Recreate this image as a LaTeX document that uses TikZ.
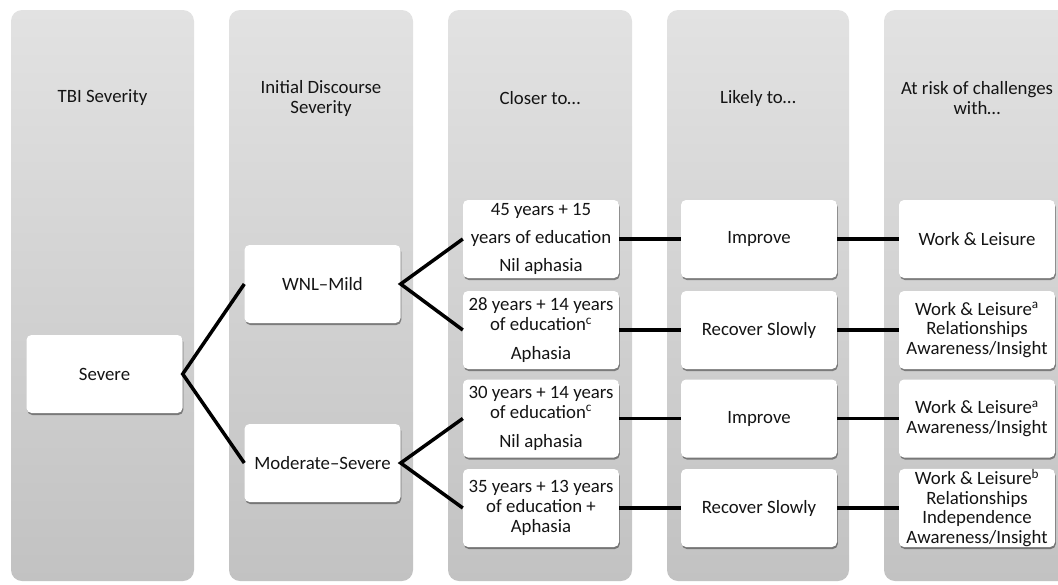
\documentclass[tikz,border=0pt]{standalone}
\usepackage{fontspec}
\setmainfont{Carlito}
\usetikzlibrary{shadows}
\definecolor{coltop}{RGB}{226,226,226}
\definecolor{colbot}{RGB}{194,194,194}
\definecolor{txt}{RGB}{20,20,20}
\begin{document}
\begin{tikzpicture}[x=1pt,y=-1pt,
  column/.style={top color=coltop,bottom color=colbot,draw=none,rounded corners=11pt},
  hdr/.style={align=center,text=txt,font=\fontsize{18.8}{20}\selectfont,inner sep=0pt},
  box/.style={fill=white,draw=none,rounded corners=5pt,minimum width=156pt,minimum height=78pt,
    inner sep=0pt,align=center,text=txt,font=\fontsize{18.8}{19.8}\selectfont,
    drop shadow={shadow xshift=0.8pt,shadow yshift=-2pt,opacity=0.4,fill=black}},
  link/.style={draw=black,line width=3.5pt}]
\useasboundingbox (0,0) rectangle (1058,584);
\clip (0,0) rectangle (1058,584);
% columns
\shade[column] (11,10) rectangle (194,581);
\shade[column] (229,10) rectangle (413,581);
\shade[column] (448,10) rectangle (632,581);
\shade[column] (667,10) rectangle (849,581);
\shade[column] (884,10) rectangle (1070,581);
% headers
\node[hdr] (h1) at (102.5,98) {TBI Severity};
\node[hdr] (h2) at (321,98) {Initial Discourse\\Severity};
\node[hdr] (h3) at (540,98) {Closer to…};
\node[hdr] (h4) at (758,98) {Likely to…};
\node[hdr] (h5) at (977,98) {At risk of challenges\\with…};
% nodes
\node[box] (sev) at (104.5,374) {Severe};
\node[box] (wnl) at (322.5,284) {WNL–Mild};
\node[box] (mod) at (322.5,463) {Moderate–Severe};
\node[box] (c1) at (541,239) {45 years + 15\\[8.5pt]years of education\\[8.5pt]Nil aphasia};
\node[box] (c2) at (541,330) {28 years + 14 years\\of education\textsuperscript{c}\\[9pt]Aphasia};
\node[box] (c3) at (541,418.5) {30 years + 14 years\\of education\textsuperscript{c}\\[10pt]Nil aphasia};
\node[box] (c4) at (541,508) {35 years + 13 years\\of education +\\Aphasia};
\node[box] (l1) at (759,239) {Improve};
\node[box] (l2) at (759,330) {Recover Slowly};
\node[box] (l3) at (759,418.5) {Improve};
\node[box] (l4) at (759,508) {Recover Slowly};
\node[box] (r1) at (977,239) {Work \& Leisure};
\node[box] (r2) at (977,330) {Work \& Leisure\textsuperscript{a}\\Relationships\\Awareness/Insight};
\node[box] (r3) at (977,418.5) {Work \& Leisure\textsuperscript{a}\\Awareness/Insight};
\node[box] (r4) at (977,508) {Work \& Leisure\textsuperscript{b}\\Relationships\\Independence\\Awareness/Insight};
% connectors
\draw[link] (wnl.west) -- (sev.east) -- (mod.west);
\draw[link] (c1.west) -- (wnl.east) -- (c2.west);
\draw[link] (c3.west) -- (mod.east) -- (c4.west);
\draw[link] (c1) -- (l1);
\draw[link] (c2) -- (l2);
\draw[link] (c3) -- (l3);
\draw[link] (c4) -- (l4);
\draw[link] (l1) -- (r1);
\draw[link] (l2) -- (r2);
\draw[link] (l3) -- (r3);
\draw[link] (l4) -- (r4);
\end{tikzpicture}
\end{document}
